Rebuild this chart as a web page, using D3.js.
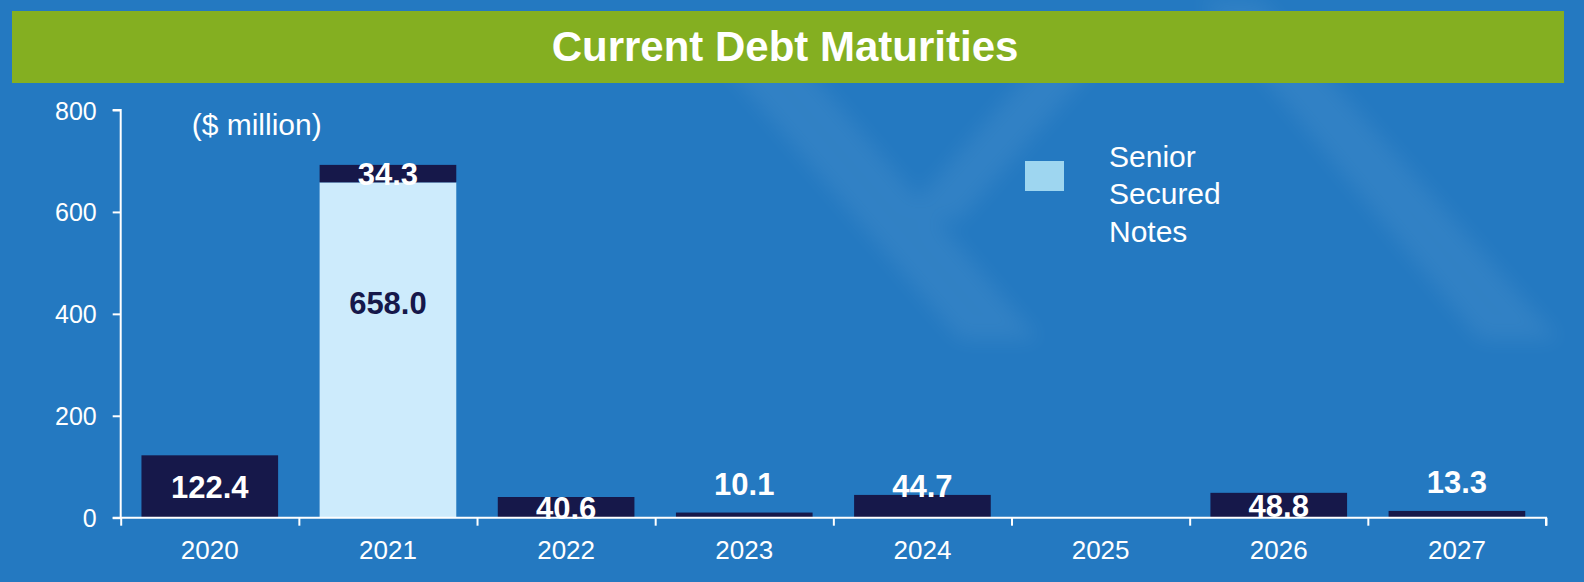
<!DOCTYPE html>
<html>
<head>
<meta charset="utf-8">
<script src="https://cdn.jsdelivr.net/npm/d3@7"></script>
<style>
  html, body { margin: 0; padding: 0; background: #2479C1; }
  svg { display: block; }
  text { font-family: "Liberation Sans", Arial, Helvetica, sans-serif; }
</style>
</head>
<body>
<svg id="chart" width="1584" height="582"></svg>
<script>
// ---- data ----
const title = "Current Debt Maturities";
const unitLabel = "($ million)";
const years = ["2020", "2021", "2022", "2023", "2024", "2025", "2026", "2027"];
const seniorSecuredNotes = [0, 658.0, 0, 0, 0, 0, 0, 0];
const otherDebt = [122.4, 34.3, 40.6, 10.1, 44.7, 0, 48.8, 13.3];
const yTicks = [0, 200, 400, 600, 800];
const legendLines = ["Senior", "Secured", "Notes"];
// where each value label sits (in $ million)
const notesLabelAt = [null, 422.3, null, null, null, null, null, null];
const otherLabelAt = [60.2, 674.4, 19.0, 66.1, 63.2, null, 23.0, 70.6];

// ---- styles ----
const C = {
  bg: "#2479C1",
  banner: "#84AF21",
  dark: "#16184A",
  light: "#CDEBFC",
  legendSwatch: "#9ED6F0",
  white: "#FFFFFF"
};

const svg = d3.select("#chart");
const W = 1584, H = 582;

const defs = svg.append("defs");
defs.append("filter").attr("id", "soft").attr("x", "-20%").attr("y", "-20%").attr("width", "140%").attr("height", "140%")
  .append("feGaussianBlur").attr("stdDeviation", 10);

svg.append("rect").attr("width", W).attr("height", H).attr("fill", C.bg);

// subtle, soft background streaks
const streaks = svg.append("g").attr("fill", "#FFFFFF").attr("opacity", 0.06).attr("filter", "url(#soft)");
[
  [[720, 60], [800, 60], [1040, 340], [960, 340]],
  [[1200, 0], [1260, 0], [1560, 340], [1480, 340]],
  [[1040, 60], [1100, 60], [960, 220], [900, 220]]
].forEach(p => streaks.append("polygon").attr("points", p.map(q => q.join(",")).join(" ")));

// title banner
svg.append("rect").attr("x", 12).attr("y", 11).attr("width", 1552).attr("height", 72).attr("fill", C.banner);
svg.append("text").attr("x", 785).attr("y", 61).attr("text-anchor", "middle")
  .attr("fill", C.white).attr("font-size", 42).attr("font-weight", "bold").text(title);

// scales
const x = d3.scaleBand().domain(years).range([120.7, 1546]).paddingInner(0.233).paddingOuter(0.1165);
const y = d3.scaleLinear().domain([0, 800]).range([517.7, 110]);

// stacked data
const rows = years.map((yr, i) => ({ year: yr, notes: seniorSecuredNotes[i], other: otherDebt[i], i }));
const stack = d3.stack().keys(["notes", "other"])(rows);
const fills = { notes: C.light, other: C.dark };

const bars = svg.append("g");
stack.forEach(series => {
  bars.append("g").attr("fill", fills[series.key])
    .selectAll("rect").data(series.filter(d => d[1] - d[0] > 0)).join("rect")
    .attr("x", d => x(d.data.year))
    .attr("width", x.bandwidth())
    .attr("y", d => y(d[1]))
    .attr("height", d => y(d[0]) - y(d[1]));
});

// axes
const yAxis = svg.append("g").attr("transform", "translate(120.7,0)")
  .call(d3.axisLeft(y).tickValues(yTicks).tickSize(8).tickPadding(16).tickFormat(d3.format("d")));
yAxis.select(".domain").attr("stroke", C.white).attr("stroke-width", 2).attr("d", `M-8,${y(800)}H0V${y(0)}`);
yAxis.selectAll(".tick line").attr("stroke", C.white).attr("stroke-width", 2);
yAxis.selectAll(".tick text").attr("fill", C.white).attr("font-size", 25)
  .attr("font-family", "'Liberation Sans', Arial, sans-serif").attr("dy", "0.36em");

const edge = d3.scaleLinear().domain([0, years.length]).range([120.7, 1546]);
const xAxis = svg.append("g").attr("transform", `translate(0,${y(0)})`)
  .call(d3.axisBottom(edge).tickValues(d3.range(years.length + 1)).tickSize(8).tickFormat(""));
xAxis.select(".domain").attr("stroke", C.white).attr("stroke-width", 2).attr("d", `M112.7,0H1546V8`);
xAxis.selectAll(".tick line").attr("stroke", C.white).attr("stroke-width", 2);

const xLabels = svg.append("g").attr("transform", `translate(0,${y(0)})`)
  .call(d3.axisBottom(x).tickSize(0).tickPadding(0));
xLabels.select(".domain").remove();
xLabels.selectAll(".tick text").attr("fill", C.white).attr("font-size", 26)
  .attr("font-family", "'Liberation Sans', Arial, sans-serif")
  .attr("dy", null).attr("y", 41);

// value labels
const fmt = d3.format(".1f");
const labels = svg.append("g").attr("text-anchor", "middle").attr("font-weight", "bold").attr("font-size", 31);
rows.forEach((r, i) => {
  if (r.notes > 0 && notesLabelAt[i] != null) {
    labels.append("text").attr("x", x(r.year) + x.bandwidth() / 2).attr("y", y(notesLabelAt[i]))
      .attr("dy", "0.36em").attr("fill", C.dark).text(fmt(r.notes));
  }
  if (r.other > 0 && otherLabelAt[i] != null) {
    labels.append("text").attr("x", x(r.year) + x.bandwidth() / 2).attr("y", y(otherLabelAt[i]))
      .attr("dy", "0.36em").attr("fill", C.white).text(fmt(r.other));
  }
});

// unit label
svg.append("text").attr("x", 191.7).attr("y", 135).attr("fill", C.white).attr("font-size", 30).text(unitLabel);

// legend
const lg = svg.append("g");
lg.append("rect").attr("x", 1025).attr("y", 161).attr("width", 39).attr("height", 30).attr("fill", C.legendSwatch);
lg.append("g").selectAll("text").data(legendLines).join("text")
  .attr("x", 1109).attr("y", (d, i) => 166.7 + i * 37.5)
  .attr("fill", C.white).attr("font-size", 30).text(d => d);
</script>
</body>
</html>
